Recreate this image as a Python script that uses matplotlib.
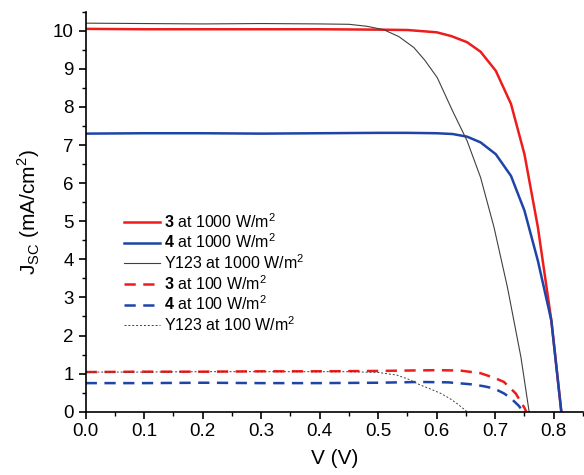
"""J-V curves: 3, 4 and Y123 at 1000 and 100 W/m2."""
import numpy as np
import matplotlib
matplotlib.use("Agg")
import matplotlib.pyplot as plt
from matplotlib.ticker import MultipleLocator

plt.rcParams["font.family"] = ["Liberation Sans", "DejaVu Sans"]
plt.rcParams["mathtext.fontset"] = "custom"
plt.rcParams["mathtext.rm"] = "Liberation Sans"
plt.rcParams["mathtext.bf"] = "Liberation Sans:bold"

# 3 at 1000 W/m2
v_3_sun = [0.0, 0.1, 0.2, 0.3, 0.4, 0.5, 0.55, 0.60, 0.625, 0.652, 0.675, 0.701,
           0.727, 0.750, 0.773, 0.796, 0.813]
j_3_sun = [10.05, 10.04, 10.04, 10.04, 10.04, 10.03, 10.02, 9.96, 9.86, 9.70, 9.45,
           8.95, 8.08, 6.76, 4.84, 2.39, 0.0]
# 4 at 1000 W/m2
v_4_sun = [0.0, 0.1, 0.2, 0.3, 0.4, 0.5, 0.55, 0.60, 0.627, 0.652, 0.675, 0.701,
           0.727, 0.750, 0.773, 0.796, 0.813]
j_4_sun = [7.30, 7.31, 7.31, 7.30, 7.31, 7.32, 7.32, 7.31, 7.29, 7.22, 7.07, 6.76,
           6.19, 5.28, 3.96, 2.39, 0.0]
# Y123 at 1000 W/m2
v_y_sun = [0.0, 0.1, 0.2, 0.3, 0.4, 0.45, 0.48, 0.509, 0.535, 0.561, 0.580, 0.601,
           0.627, 0.652, 0.675, 0.698, 0.721, 0.744, 0.758]
j_y_sun = [10.20, 10.19, 10.18, 10.19, 10.18, 10.17, 10.12, 10.03, 9.85, 9.56, 9.22,
           8.77, 7.90, 7.11, 6.15, 4.84, 3.26, 1.43, 0.0]
# 3 at 100 W/m2
v_3_low = [0.0, 0.1, 0.2, 0.3, 0.4, 0.5, 0.55, 0.60, 0.64, 0.675, 0.700, 0.715,
           0.735, 0.750, 0.753]
j_3_low = [1.04, 1.05, 1.05, 1.06, 1.06, 1.07, 1.08, 1.09, 1.08, 1.01, 0.88, 0.78,
           0.48, 0.10, 0.0]
# 4 at 100 W/m2
v_4_low = [0.0, 0.1, 0.2, 0.3, 0.4, 0.5, 0.572, 0.62, 0.658, 0.680, 0.698, 0.715,
           0.727, 0.740, 0.748]
j_4_low = [0.75, 0.75, 0.76, 0.75, 0.75, 0.76, 0.78, 0.77, 0.72, 0.67, 0.61, 0.48,
           0.35, 0.16, 0.0]
# Y123 at 100 W/m2
v_y_low = [0.0, 0.1, 0.2, 0.3, 0.4, 0.45, 0.50, 0.532, 0.552, 0.572, 0.590, 0.607,
           0.622, 0.635, 0.652]
j_y_low = [1.04, 1.04, 1.05, 1.05, 1.05, 1.05, 1.03, 0.96, 0.85, 0.70, 0.59, 0.48,
           0.35, 0.21, 0.0]

RED = "#ee1c1c"
BLUE = "#1f44a8"
GREY = "#404040"

fig = plt.figure(figsize=(5.84, 4.75), dpi=100)
ax = fig.add_axes([0.1467, 0.1333, 0.8515, 0.842])

ax.plot(v_3_sun, j_3_sun, color=RED, lw=1.8, label=r"$\mathbf{3}$ at 1000 W/m$^2$")
ax.plot(v_4_sun, j_4_sun, color=BLUE, lw=1.8, label=r"$\mathbf{4}$ at 1000 W/m$^2$")
ax.plot(v_y_sun, j_y_sun, color=GREY, lw=0.8, label="Y123 at 1000 W/m$^2$")
ax.plot(v_3_low, j_3_low, color=RED, lw=1.8, dashes=(4.5, 3), label=r"$\mathbf{3}$ at 100 W/m$^2$")
ax.plot(v_4_low, j_4_low, color=BLUE, lw=1.8, dashes=(4.5, 3), label=r"$\mathbf{4}$ at 100 W/m$^2$")
ax.plot(v_y_low, j_y_low, color=GREY, lw=0.7, dashes=(2, 2), label="Y123 at 100 W/m$^2$")

ax.set_xlim(0, 0.85)
ax.set_ylim(0, 10.5)
ax.xaxis.set_minor_locator(MultipleLocator(0.05))
ax.yaxis.set_major_locator(MultipleLocator(1))
ax.yaxis.set_minor_locator(MultipleLocator(0.5))
xt = np.arange(0, 0.85, 0.1)
ax.set_xticks(xt)
ax.set_xticklabels([f"{t:.1f}" for t in xt])

for s in ("top", "right"):
    ax.spines[s].set_visible(False)
for s in ("left", "bottom"):
    ax.spines[s].set_linewidth(1.2)
ax.tick_params(which="major", direction="out", length=5, width=1.2, labelsize=13.5)
ax.tick_params(which="minor", direction="out", length=3, width=1.0)

ax.set_xlabel("V (V)", fontsize=15, labelpad=6)
ax.set_ylabel(r"J$_{\mathregular{SC}}$ (mA/cm$^{\mathregular{2}}$)", fontsize=15, labelpad=8)

ax.legend(loc="upper left", bbox_to_anchor=(0.065, 0.515), frameon=False, fontsize=11.5,
          handlelength=2.2, handletextpad=0.3, labelspacing=0.12, borderaxespad=0)

fig.savefig("out.png", dpi=100)
